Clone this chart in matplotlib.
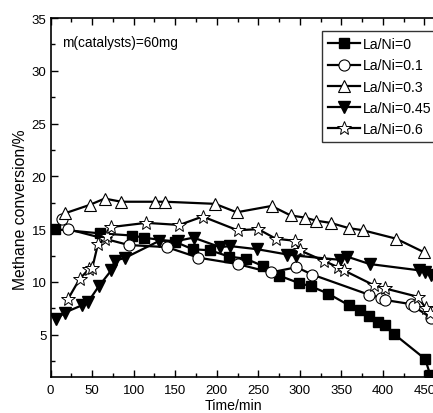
import numpy as np
import matplotlib
matplotlib.use("Agg")
import matplotlib.pyplot as plt
from matplotlib.ticker import MultipleLocator

plt.rcParams['font.family'] = ['Liberation Sans', 'DejaVu Sans']

# La/Ni = 0
t0 = [5, 60, 98, 112, 150, 171, 192, 215, 235, 256, 275, 299, 313, 334, 359, 372, 383, 394, 402, 413, 451, 457]
c0 = [15.0, 14.6, 14.4, 14.2, 13.8, 13.1, 13.0, 12.4, 12.2, 11.5, 10.6, 9.9, 9.6, 8.9, 7.8, 7.3, 6.8, 6.2, 5.9, 5.1, 2.7, 1.2]
# La/Ni = 0.1
t1 = [14, 21, 94, 140, 178, 225, 265, 296, 315, 383, 398, 402, 434, 437, 458]
c1 = [16.0, 15.0, 13.5, 13.3, 12.3, 11.7, 10.9, 11.4, 10.7, 8.8, 8.5, 8.3, 7.9, 7.7, 6.6]
# La/Ni = 0.3
t3 = [17, 47, 65, 85, 126, 138, 198, 224, 266, 289, 306, 320, 337, 359, 376, 416, 450]
c3 = [16.5, 17.3, 17.9, 17.6, 17.6, 17.6, 17.4, 16.6, 17.2, 16.3, 16.1, 15.8, 15.6, 15.1, 14.9, 14.1, 12.8]
# La/Ni = 0.45
t45 = [7, 17, 38, 45, 58, 73, 77, 90, 131, 153, 172, 204, 216, 249, 285, 295, 348, 357, 384, 444, 451, 458]
c45 = [6.5, 7.1, 7.8, 8.1, 9.6, 11.1, 12.0, 12.3, 13.9, 13.9, 14.2, 13.3, 13.4, 13.1, 12.6, 12.5, 12.1, 12.4, 11.7, 11.1, 10.9, 10.7]
# La/Ni = 0.6
t6 = [21, 35, 46, 50, 57, 65, 68, 73, 115, 155, 183, 225, 250, 271, 294, 300, 329, 346, 353, 389, 402, 442, 452, 457]
c6 = [8.4, 10.3, 11.2, 11.3, 13.6, 14.1, 14.4, 15.2, 15.6, 15.4, 16.2, 14.9, 15.0, 14.1, 13.9, 13.0, 12.0, 11.4, 11.1, 9.7, 9.4, 8.6, 7.5, 7.1]

labels = ['La/Ni=0', 'La/Ni=0.1', 'La/Ni=0.3', 'La/Ni=0.45', 'La/Ni=0.6']

fig = plt.figure(figsize=(4.33, 4.14), dpi=100)
ax = fig.add_axes([0.117, 0.087, 0.888, 0.867])

lw = 1.6
ax.plot(t0, c0, '-s', color='black', lw=lw, ms=6.5, mfc='black', mec='black', label=labels[0])
ax.plot(t1, c1, '-o', color='black', lw=lw, ms=8, mfc='white', mec='black', mew=0.8, label=labels[1])
ax.plot(t3, c3, '-^', color='black', lw=lw, ms=9, mfc='white', mec='black', mew=0.8, label=labels[2])
ax.plot(t45, c45, '-v', color='black', lw=lw, ms=8.5, mfc='black', mec='black', label=labels[3])
ax.plot(t6, c6, '-*', color='black', lw=lw, ms=10, mfc='white', mec='black', mew=0.7, label=labels[4])

ax.set_xlim(0, 463)
ax.set_ylim(1, 35)
ax.xaxis.set_minor_locator(MultipleLocator(25))
ax.yaxis.set_minor_locator(MultipleLocator(2.5))
ax.set_xticks(np.arange(0, 451, 50))
ax.set_yticks(np.arange(5, 36, 5))
ax.tick_params(which='both', direction='in', top=True, labelsize=9.5, width=1)
ax.tick_params(which='major', length=5)
ax.tick_params(which='minor', length=3)
ax.tick_params(axis='x', which='major', pad=5)
ax.tick_params(axis='y', which='major', pad=3)
for s in ax.spines.values():
    s.set_linewidth(1.2)

ax.set_xlabel('Time/min', fontsize=10.2)
ax.xaxis.set_label_coords((233 - 50.6) / (0.888 * 433), -0.058)
ax.set_ylabel('Methane conversion/%', fontsize=11.3)
ax.yaxis.set_label_coords(-0.059, 0.469)

ax.text(13.7, 32.7, 'm(catalysts)=60mg', fontsize=9.8, va='center', ha='left')

leg = ax.legend(loc='upper left', bbox_to_anchor=(322 / 433, 1 - 32 / 414),
                bbox_transform=fig.transFigure, fontsize=10.2, frameon=True,
                fancybox=False, handlelength=2.2, handletextpad=0.2,
                labelspacing=0.5, borderpad=0.45, borderaxespad=0)
leg.get_frame().set_edgecolor('black')
leg.get_frame().set_linewidth(1.0)

fig.savefig('out.png', dpi=100)
